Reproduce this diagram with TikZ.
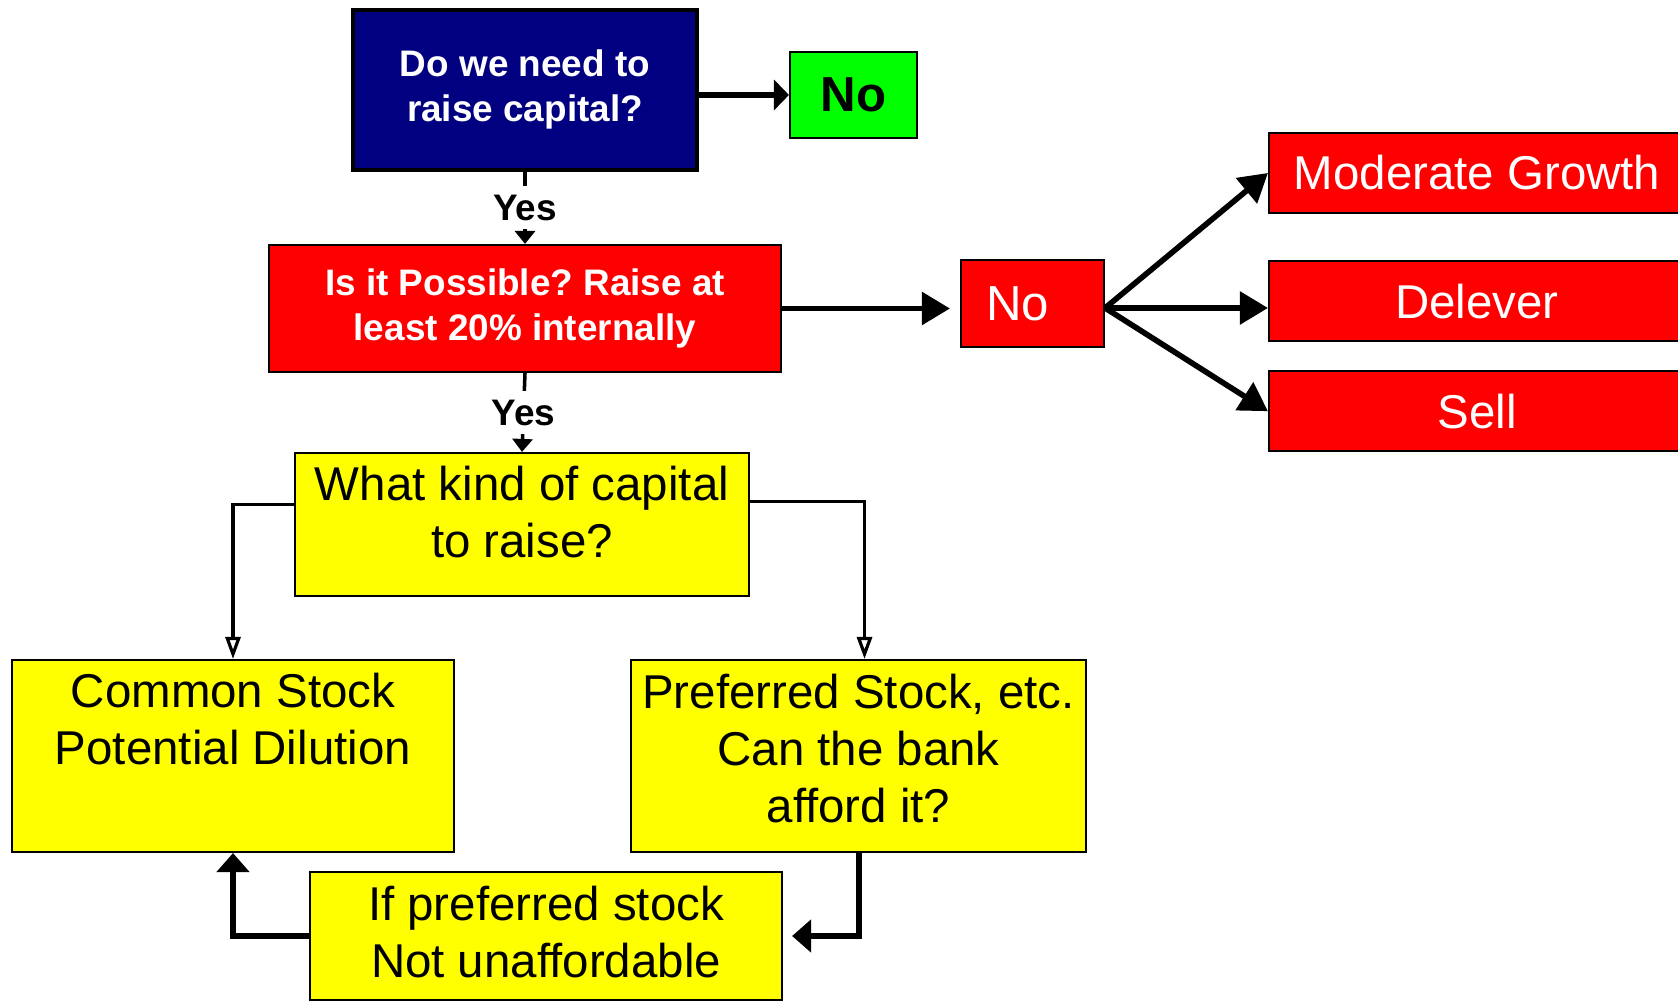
\documentclass[tikz,border=0pt]{standalone}
\usepackage{fontspec}
\setmainfont{Liberation Sans}
\frenchspacing
\definecolor{capNavy}{RGB}{0,0,128}
\definecolor{capRed}{RGB}{255,0,0}
\definecolor{capGreen}{RGB}{0,255,0}
\definecolor{capYellow}{RGB}{255,255,0}
\usetikzlibrary{arrows.meta}
\usetikzlibrary{calc,positioning}
% extra depth below the last line, lifts the text in a box
\newcommand{\downStrut}[1]{\rule[-#1]{0pt}{#1}}

\begin{document}
\begin{tikzpicture}[
          bigText/.style={font=\fontsize{13.5}{16.2}\selectfont},
          boldText/.style={font=\fontsize{10.5}{12.8}\selectfont\bfseries},
          blueBox/.style={
            draw,
            line width=1pt,
            fill=capNavy,
            text=white,
            align=center,
            inner sep=0pt,
            boldText},
          redBox/.style={
            draw,
            line width=.6pt,
            fill=capRed,
            text=white,
            align=center,
            inner sep=0pt},
          greenBox/.style={
            draw,
            line width=.6pt,
            fill=capGreen,
            inner sep=0pt,
            font=\fontsize{14}{16}\selectfont\bfseries},
          yellowBox/.style={
            draw,
            line width=.6pt,
            fill=capYellow,
            align=center,
            inner sep=0pt,
            bigText},
          yesLabel/.style={fill=white, inner sep=2.5pt, boldText},
          yesArrow/.style={line width=1pt, -{Triangle[length=.13cm,width=.2cm]}},
          bigArrow/.style={line width=1.6pt, -{Triangle[length=.28cm,width=.32cm]}},
          midArrow/.style={line width=1.5pt, -{Triangle[length=.15cm,width=.3cm]}},
          thinArrow/.style={line width=.9pt, -{Triangle[open,length=.22cm,width=.15cm]}},
          loopArrow/.style={line width=1.7pt, -{Triangle[length=.19cm,width=.32cm]}}
        ]
          \useasboundingbox (0,0) rectangle (16.78,10.02);

          % first question
          \node[blueBox, minimum width=3.44cm, minimum height=1.6cm] (needBox) at (5.25,9.12) {Do we need to\\raise capital?\downStrut{.8mm}};
          \node[greenBox, minimum width=1.27cm, minimum height=.86cm] (noGreen) at (8.535,9.07) {No\hspace{.13cm}};

          % second question
          \node[redBox, boldText, minimum width=5.12cm, minimum height=1.27cm] (possibleBox) at (5.25,6.935) {Is it Possible? Raise at\\least 20\% internally\downStrut{.8mm}};
          \node[redBox, font=\fontsize{14}{16}\selectfont, minimum width=1.43cm, minimum height=.87cm] (noRed) at (10.325,6.985) {No\hspace{.3cm}};

          % outcomes
          \node[redBox, bigText, minimum width=4.16cm, minimum height=.8cm] (growthBox) at (14.77,8.29) {Moderate Growth};
          \node[redBox, bigText, minimum width=4.16cm, minimum height=.8cm, below=.46cm of growthBox] (deleverBox) {Delever};
          \node[redBox, bigText, minimum width=4.16cm, minimum height=.8cm, below=.28cm of deleverBox] (sellBox) {Sell};

          % kind of capital
          \node[yellowBox, minimum width=4.54cm, minimum height=1.43cm] (kindBox) at (5.22,4.775) {What kind of capital\\to raise?\downStrut{2.6mm}};
          \node[yellowBox, minimum width=4.42cm, minimum height=1.92cm] (commonBox) at (2.33,2.46) {Common Stock\\Potential Dilution\\\downStrut{1.7mm}};
          \node[yellowBox, minimum width=4.55cm, minimum height=1.92cm] (prefBox) at (8.585,2.46) {Preferred Stock, etc.\\Can the bank\\afford it?\downStrut{1.6mm}};
          \node[yellowBox, minimum width=4.72cm, minimum height=1.28cm] (ifBox) at (5.46,.66) {If preferred stock\\Not unaffordable\downStrut{.9mm}};

          \coordinate (fanOut) at ([yshift=-.45mm]noRed.east);

          \draw[midArrow] (noGreen.west -| needBox.east) -- (noGreen.west);
          \draw[yesArrow] (needBox.south) -- node[yesLabel] {Yes} (possibleBox.north);
          \draw[yesArrow] (possibleBox.south) -- node[yesLabel] {Yes} (kindBox.north);
          \draw[bigArrow, shorten >=1mm] (possibleBox.east) -- (possibleBox.east -| noRed.west);

          \draw[bigArrow] (fanOut) -- (growthBox.west);
          \draw[bigArrow] (fanOut) -- (fanOut -| deleverBox.west);
          \draw[bigArrow] (fanOut) -- (sellBox.west);

          \draw[thinArrow] ([yshift=2mm]kindBox.west) -| (commonBox.north);
          \draw[thinArrow] ([yshift=2.3mm]kindBox.east) -| ([xshift=.6mm]prefBox.north);
          \draw[loopArrow, shorten >=.9mm] (prefBox.south) |- (ifBox.east);
          \draw[loopArrow] (ifBox.west) -| (commonBox.south);
        \end{tikzpicture}
\end{document}
